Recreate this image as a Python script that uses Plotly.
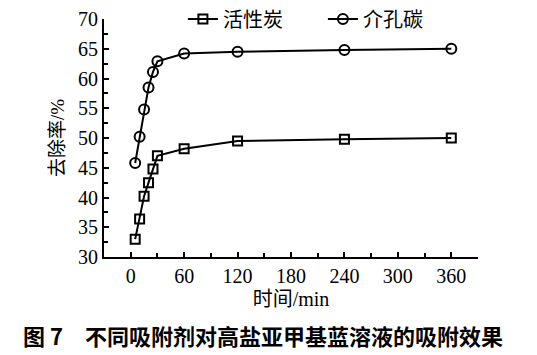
import plotly.graph_objects as go

time_min = [5, 10, 15, 20, 25, 30, 60, 120, 240, 360]
activated_carbon = [33.0, 36.4, 40.2, 42.5, 44.8, 47.0, 48.2, 49.5, 49.8, 50.0]
mesoporous_carbon = [45.8, 50.2, 54.8, 58.5, 61.1, 62.9, 64.2, 64.5, 64.8, 65.0]
series_names = ["活性炭", "介孔碳"]
x_ticks = [0, 60, 120, 180, 240, 300, 360]
y_ticks = [30, 35, 40, 45, 50, 55, 60, 65, 70]
caption = "图 7　不同吸附剂对高盐亚甲基蓝溶液的吸附效果"

serif = "Liberation Serif"
cjk = "Liberation Serif, Noto Sans CJK SC, serif"

fig = go.Figure()
fig.add_trace(go.Scatter(
    x=time_min, y=activated_carbon, name=series_names[0], mode="lines+markers",
    line=dict(color="black", width=2),
    marker=dict(symbol="square-open", size=9, color="black", line=dict(width=2, color="black")),
))
fig.add_trace(go.Scatter(
    x=time_min, y=mesoporous_carbon, name=series_names[1], mode="lines+markers",
    line=dict(color="black", width=2),
    marker=dict(symbol="circle-open", size=10, color="black", line=dict(width=2, color="black")),
))

axis_common = dict(
    showline=True, linecolor="black", linewidth=2, mirror=False,
    ticks="inside", ticklen=5, tickwidth=1.5, tickcolor="black",
    showgrid=False, zeroline=False,
    tickfont=dict(family=serif, size=20, color="black"),
)

fig.update_xaxes(
    range=[-30, 390], tickvals=x_ticks, ticktext=[str(v) for v in x_ticks],
    minor=dict(ticks="inside", ticklen=4, tickwidth=1.5, tickcolor="black", dtick=30, tick0=0),
    title=dict(text="时间/min", font=dict(family=cjk, size=20, color="black"), standoff=6),
    **axis_common,
)
fig.update_yaxes(
    range=[30, 70], tickvals=y_ticks, ticktext=[str(v) for v in y_ticks],
    minor=dict(ticks="inside", ticklen=4, tickwidth=1.5, tickcolor="black", dtick=2.5, tick0=30),
    title=dict(text="去除率/%", font=dict(family=cjk, size=19, color="black"), standoff=8),
    **axis_common,
)

fig.add_annotation(
    text=caption, xref="paper", yref="paper", x=0.424, y=-0.328,
    xanchor="center", yanchor="middle", showarrow=False,
    font=dict(family="Noto Sans CJK SC", size=22, color="black", weight="bold"),
)

# page has an 8px body margin, so the figure is 8px smaller and offset
fig.update_layout(
    width=529, height=347,
    margin=dict(l=96, r=59, t=11, b=98, autoexpand=False),
    paper_bgcolor="white", plot_bgcolor="white",
    showlegend=True,
    legend=dict(
        orientation="h", x=0.211, y=1.0, xanchor="left", yanchor="middle",
        font=dict(family=cjk, size=20, color="black"),
        bgcolor="rgba(0,0,0,0)", entrywidth=95, itemwidth=30,
    ),
)

fig.write_html("out.html")
